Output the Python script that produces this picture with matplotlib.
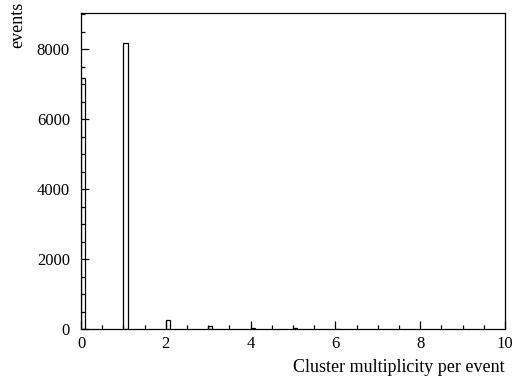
import matplotlib
matplotlib.use("Agg")
import matplotlib.pyplot as plt
import numpy as np

# histogram: bin left edges and counts (bin width 0.1)
bin_lefts = [0.0, 1.0, 2.0, 3.0, 4.0, 5.0, 6.0]
counts = [7170, 8170, 250, 80, 40, 20, 5]
bin_width = 0.1

xlabel = "Cluster multiplicity per event"
ylabel = "events"
xticks = [0, 2, 4, 6, 8, 10]
yticks = [0, 2000, 4000, 6000, 8000]

plt.rcParams['font.family'] = ['Liberation Serif', 'DejaVu Serif']

fig = plt.figure(figsize=(5.17, 3.80), dpi=100)
ax = fig.add_axes([81/517, 51/380, (505-81)/517, (329-12.7)/380])

ax.bar(bin_lefts, counts, width=bin_width, align='edge', fill=False,
       edgecolor='black', linewidth=0.9)

ax.set_xlim(0, 10)
ax.set_ylim(0, 9050)
ax.set_xticks(xticks)
ax.set_yticks(yticks)
ax.set_xticks(np.arange(0, 10.01, 0.5), minor=True)
ax.set_yticks(np.arange(0, 9001, 500), minor=True)
ax.tick_params(axis='both', which='both', direction='in', top=False, right=False,
               labelsize=12, color='black')
ax.tick_params(axis='both', which='major', length=6, width=0.9)
ax.tick_params(axis='both', which='minor', length=3, width=0.9)
ax.tick_params(axis='x', which='major', pad=5)
ax.tick_params(axis='y', which='major', pad=8)
for s in ax.spines.values():
    s.set_linewidth(0.9)

fig.text(505/517, 4/380, xlabel, ha='right', va='bottom', fontsize=13)
fig.text(18/517, 0.995, ylabel, rotation=90, ha='center', va='top', fontsize=13)

fig.savefig("out.png", dpi=100)
